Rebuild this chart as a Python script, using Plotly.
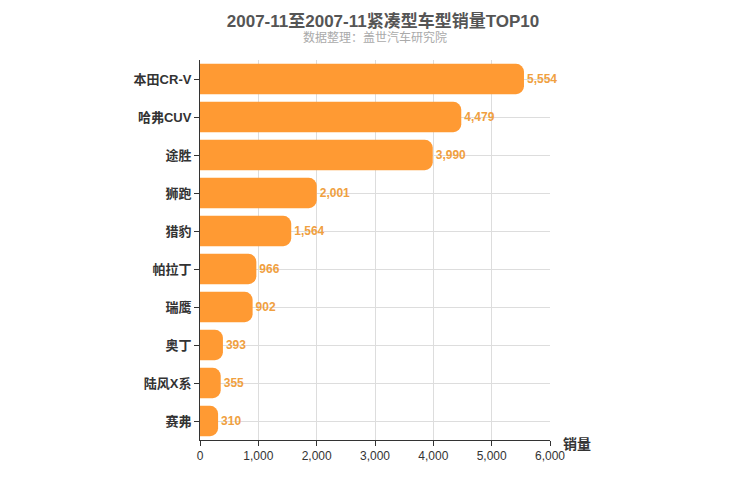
import plotly.graph_objects as go

categories = ["本田CR-V","哈弗CUV","途胜","狮跑","猎豹","帕拉丁","瑞鹰","奥丁","陆风X系","赛弗"]
values = [5554,4479,3990,2001,1564,966,902,393,355,310]
tick_vals = [0,1000,2000,3000,4000,5000,6000]

fig = go.Figure(go.Bar(
    x=values, y=categories, orientation="h",
    marker=dict(color="#ff9a33", line=dict(width=0)),
    text=[f"<b>{v:,}</b>" for v in values], textposition="outside",
    textfont=dict(color="#f0a040", size=12, family="Liberation Sans, Noto Sans CJK SC"),
    cliponaxis=False,
))
fig.update_layout(
    width=750, height=500, plot_bgcolor="white", paper_bgcolor="white",
    margin=dict(l=192, r=208, t=52, b=68),
    barcornerradius=8, bargap=0.2, showlegend=False,
    font=dict(family="Liberation Sans, Noto Sans CJK SC", color="#333"),
    title=dict(text="<b>2007-11至2007-11紧凑型车型销量TOP10</b>", x=0.5, xanchor="center", y=0.985, yanchor="top",
               font=dict(size=17, color="#555")),
    annotations=[
        dict(text="数据整理：盖世汽车研究院", x=0.5, xref="paper", y=1.085, yref="paper", xanchor="center",
             showarrow=False, font=dict(size=12, color="#aaa")),
        dict(text="<b>销量</b>", x=1.03, xref="paper", y=-0.01, yref="paper", xanchor="left", yanchor="middle",
             showarrow=False, font=dict(size=14, color="#333")),
    ],
)
fig.update_xaxes(range=[0,6000], tickvals=tick_vals, tickformat=",", showgrid=True, gridcolor="#ddd",
                 showline=True, linecolor="#333", ticks="outside", tickcolor="#333", tickfont=dict(size=12, color="#333"),
                 zeroline=False)
fig.update_yaxes(autorange="reversed", showgrid=True, gridcolor="#ddd", showline=True, linecolor="#333",
                 ticks="outside", tickcolor="#333", tickfont=dict(size=13, color="#333", weight="bold"))
fig.write_html("out.html")
